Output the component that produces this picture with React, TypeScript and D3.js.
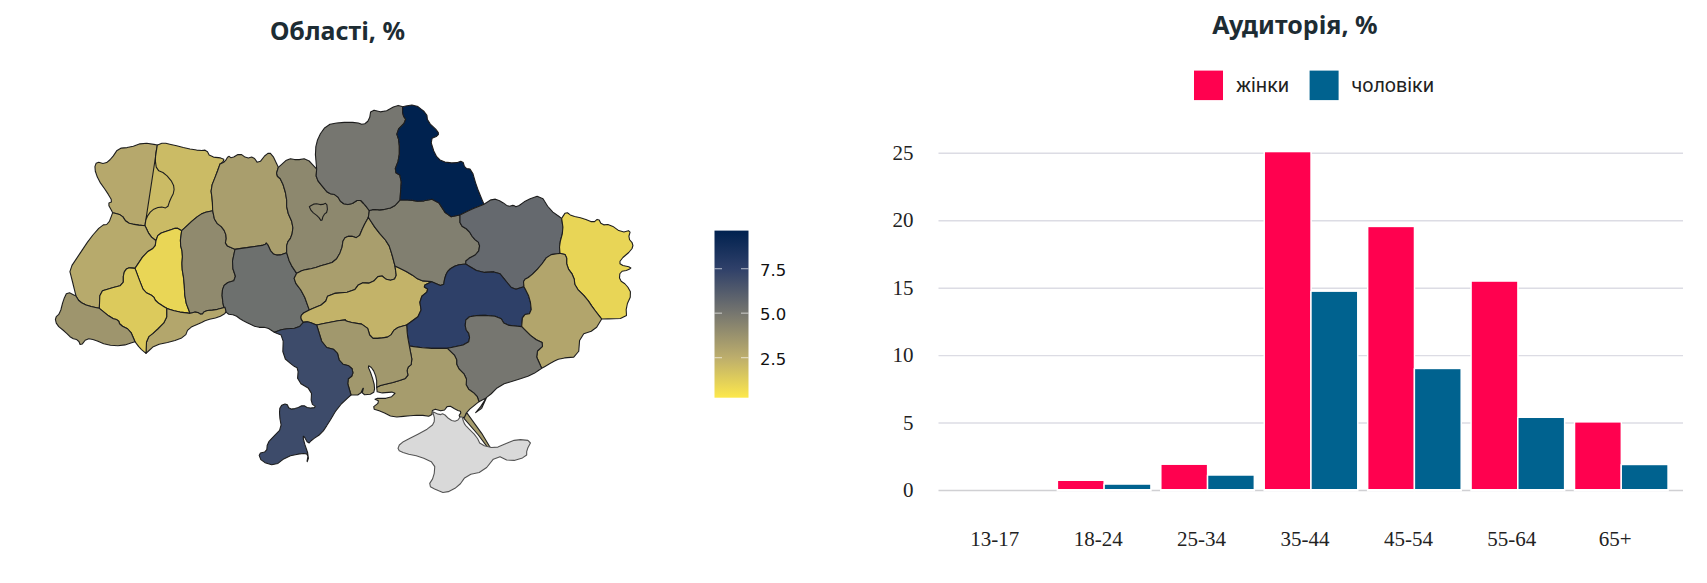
import { useRef, useEffect, FC } from 'react';
import * as d3 from 'd3';

type Pt = number[];

// Audience chart
const ageGroups = ['13-17', '18-24', '25-34', '35-44', '45-54', '55-64', '65+'];
const seriesNames = ['жінки', 'чоловіки'];
const seriesColors = ['#ff014f', '#00628f'];
const women = [0, 0.63, 1.82, 25, 19.45, 15.4, 4.96];
const men = [0, 0.35, 1.02, 14.65, 8.92, 5.3, 1.8];
const barTicks = [0, 5, 10, 15, 20, 25];

// Map colour scale
const colorStops = [0.25, 2.5, 5, 7.5, 9.64];
const colorValues = ['#fde84c', '#bdae6c', '#76766f', '#2f4069', '#00214f'];
const colorTicks = [2.5, 5, 7.5];

// Borders, quantised like TopoJSON arcs (see grid* below)
const gridLon = [21.67, 40.39]; // q = 0..1800
const gridLat = [52.67, 44.47]; // q = 0..1200

const volTop: Pt[] = [[352,165],[310,158],[270,172],[235,175],[215,205],[195,222],[170,215],[163,235],[175,270],[200,305],[218,335],[203,340],[218,368]];
const volLvi: Pt[] = [[218,368],[245,375],[260,398],[290,405],[315,407]];
const volRiv: Pt[] = [[315,407],[318,385],[335,360],[360,350],[382,355],[390,330],[403,305],[400,280],[375,250],[350,240],[345,205],[352,165]];
const rivTop: Pt[] = [[352,165],[370,158],[400,165],[440,175],[480,182],[500,180],[510,200],[552,205],[550,215],[540,222]];
const rivZhy: Pt[] = [[540,222],[530,250],[512,295],[517,330],[518,362]];
const rivKhm: Pt[] = [[518,362],[490,368],[465,385],[425,422]];
const rivTer: Pt[] = [[425,422],[410,413],[390,420],[355,432],[348,452]];
const rivLvi: Pt[] = [[348,452],[330,438],[315,407]];
const lviOut: Pt[] = [[218,368],[205,403],[185,405],[150,445],[120,490],[88,538],[95,565],[108,618]];
const lviZak: Pt[] = [[108,618],[118,635],[145,648],[178,655]];
const lviIf: Pt[] = [[178,655],[180,605],[210,595],[250,585],[250,550],[262,533],[285,535]];
const lviTer: Pt[] = [[285,535],[315,490],[345,472],[348,452]];
const terIf: Pt[] = [[285,535],[300,575],[312,605],[340,618],[348,635],[380,655]];
const terChv: Pt[] = [[380,655],[410,665],[450,670]];
const terKhm: Pt[] = [[450,670],[435,630],[432,570],[425,530],[428,490],[420,460],[425,422]];
const khmZhy: Pt[] = [[518,362],[525,395],[550,415],[560,440],[555,465],[585,478]];
const khmVin: Pt[] = [[585,478],[575,525],[590,570],[555,580],[545,605],[550,650],[555,652]];
const khmChv: Pt[] = [[555,652],[525,660],[495,662],[485,675],[470,665],[450,670]];
const chvIf: Pt[] = [[380,655],[380,690],[345,725],[320,745],[318,790]];
const chvOut: Pt[] = [[318,790],[345,765],[395,755],[435,740],[445,715],[480,700],[500,690],[535,682],[560,668],[555,652]];
const ifZak: Pt[] = [[178,655],[215,685],[235,690],[240,705],[270,720],[285,755]];
const ifOut: Pt[] = [[285,755],[300,775],[318,790]];
const zakOut: Pt[] = [[108,618],[82,605],[70,630],[60,670],[45,683],[50,705],[75,725],[95,745],[115,750],[122,768],[140,745],[165,750],[200,765],[245,768],[285,755]];
const zhyTop: Pt[] = [[540,222],[555,215],[565,197],[575,205],[600,190],[620,205],[640,200],[655,222],[680,190],[695,190],[715,232]];
const zhyKyi: Pt[] = [[715,232],[708,255],[725,270],[740,320],[740,360],[760,405],[755,440],[740,460],[740,488]];
const zhyVin: Pt[] = [[740,488],[715,497],[695,490],[680,457],[675,465],[640,470],[585,478]];
const vinKyi: Pt[] = [[740,488],[750,520],[770,550]];
const vinChk: Pt[] = [[770,550],[760,570],[790,610],[808,660]];
const vinKir: Pt[] = [[808,660],[785,672],[782,685],[790,697]];
const vinOde: Pt[] = [[790,697],[775,714],[730,717],[703,727]];
const vinOut: Pt[] = [[703,727],[680,712],[650,712],[625,700],[605,690],[585,675],[560,672],[555,652]];
const kyiTop: Pt[] = [[715,232],[745,205],[770,210],[800,205],[830,237]];
const kyiChn: Pt[] = [[830,237],[828,265],[852,295],[865,310],[890,315],[905,340],[930,345],[958,327],[975,345],[988,362]];
const kyiPol: Pt[] = [[988,362],[985,382]];
const kyiChk: Pt[] = [[985,382],[970,410],[955,445],[930,437],[910,445],[905,480],[885,515],[850,525],[820,535],[790,540],[770,550]];
const kyivCity: Pt[] = [[808,350],[825,340],[845,345],[860,338],[863,365],[850,375],[845,395],[835,380],[815,365],[808,350]];
const chkPol: Pt[] = [[985,382],[1010,420],[1045,460],[1055,490],[1065,528]];
const chkKir: Pt[] = [[1065,528],[1070,565],[1045,573],[1020,553],[995,580],[960,578],[940,605],[865,612],[855,640],[808,660]];
const kirPol: Pt[] = [[1065,528],[1110,550],[1140,572],[1175,575]];
const kirDni: Pt[] = [[1175,575],[1148,588],[1168,600],[1138,625],[1145,672],[1100,705]];
const kirMyk: Pt[] = [[1100,705],[1065,715],[1050,740],[1020,745],[992,745],[980,705],[920,695],[915,688],[830,705]];
const odeKir: Pt[] = [[790,697],[805,695],[830,705]];
const polDni: Pt[] = [[1175,575],[1210,590],[1215,560],[1225,540],[1250,525],[1277,522]];
const polKha: Pt[] = [[1260,375],[1260,405],[1285,420],[1300,445],[1320,460],[1315,490],[1278,510],[1277,522]];
const polSum: Pt[] = [[1080,330],[1110,330],[1140,335],[1188,325],[1225,382],[1260,375]];
const polChn: Pt[] = [[988,362],[1000,358],[1025,360],[1060,352],[1080,330]];
const chnOut: Pt[] = [[830,237],[825,180],[835,140],[860,105],[900,97],[950,97],[970,105],[988,90],[993,58],[1030,68],[1070,45],[1088,50]];
const chnSum: Pt[] = [[1088,50],[1088,75],[1100,92],[1068,125],[1078,155],[1078,205],[1062,245],[1085,258],[1080,330]];
const sumOut: Pt[] = [[1088,50],[1125,43],[1160,70],[1163,95],[1195,125],[1195,137],[1170,147],[1185,195],[1205,215],[1245,220],[1268,212],[1275,235],[1295,238],[1310,290],[1332,343]];
const sumKha: Pt[] = [[1332,343],[1290,360],[1260,375]];
const khaOut: Pt[] = [[1332,343],[1360,325],[1385,335],[1405,350],[1420,345],[1430,352],[1460,330],[1502,315],[1530,360],[1565,385]];
const khaLuh: Pt[] = [[1565,385],[1570,420],[1558,465],[1560,490]];
const khaDon: Pt[] = [[1560,490],[1525,495],[1500,530],[1470,560],[1450,570],[1452,590]];
const khaDni: Pt[] = [[1452,590],[1420,600],[1395,570],[1375,545],[1320,548],[1277,522]];
const dniDon: Pt[] = [[1452,590],[1470,625],[1475,670],[1448,675],[1445,710]];
const dniZap: Pt[] = [[1445,710],[1395,705],[1380,680],[1320,675],[1278,682],[1275,715],[1290,735],[1285,762],[1222,775]];
const dniKhe: Pt[] = [[1222,775],[1160,775],[1108,768]];
const dniMyk: Pt[] = [[1108,768],[1102,735],[1100,705]];
const lugOut: Pt[] = [[1565,385],[1578,365],[1595,378],[1630,385],[1660,398],[1675,385],[1685,405],[1710,403],[1745,428],[1772,420],[1765,445],[1780,462],[1775,480],[1740,510],[1740,525],[1775,532],[1765,540],[1740,545],[1738,570],[1760,585],[1775,612],[1758,650],[1760,685],[1685,687]];
const lugDon: Pt[] = [[1685,687],[1660,655],[1640,625],[1605,590],[1602,560],[1580,530],[1580,495],[1560,490]];
const donOut: Pt[] = [[1685,687],[1665,720],[1620,735],[1615,800],[1560,805],[1540,815],[1505,835]];
const donZap: Pt[] = [[1505,835],[1485,790],[1515,762],[1480,745],[1445,710]];
const zapKhe: Pt[] = [[1222,775],[1250,802],[1250,830],[1280,860],[1278,892],[1310,915],[1317,935]];
const zapOut: Pt[] = [[1317,935],[1345,920],[1380,885],[1430,870],[1475,855],[1505,835]];
const zapSpit: Pt[] = [[1340,922],[1325,955],[1307,968],[1322,950],[1336,922]];
const kheMyk: Pt[] = [[1108,768],[1118,820],[1100,835],[1105,862],[1070,875],[1025,885],[1010,892]];
const kheOut: Pt[] = [[1010,892],[1012,910],[1070,905],[1050,925],[1000,925],[1020,935],[995,955],[1025,965],[1060,982],[1100,978],[1140,975],[1175,980],[1178,955],[1210,965],[1225,945],[1250,960],[1265,965],[1255,980],[1272,985],[1280,965],[1317,935]];
const kheSpit: Pt[] = [[1280,968],[1325,1030],[1352,1075],[1345,1075],[1315,1035],[1272,985],[1280,968]];
const mykOde: Pt[] = [[830,705],[850,770],[890,780],[900,820],[935,830],[940,855],[920,870],[933,915]];
const mykOut: Pt[] = [[933,915],[960,915],[972,888],[965,915],[1000,912],[1005,892],[995,855],[982,825],[998,835],[1010,865],[1010,892]];
const odeOut: Pt[] = [[703,727],[730,738],[728,800],[760,828],[775,835],[772,875],[815,900],[813,940],[830,952],[805,955],[790,945],[770,955],[748,958],[740,940],[720,948],[718,975],[725,1015],[700,1040],[682,1060],[680,1085],[655,1090],[665,1115],[705,1127],[740,1100],[785,1090],[805,1092],[800,1120],[807,1100],[790,1050],[790,1035],[805,1062],[815,1050],[845,1030],[865,1000],[895,950],[933,915]];
const crimea: Pt[] = [[1178,965],[1200,975],[1210,970],[1230,990],[1250,995],[1265,975],[1272,1000],[1280,1010],[1310,1040],[1322,1065],[1365,1075],[1400,1060],[1430,1048],[1475,1052],[1460,1080],[1460,1100],[1410,1115],[1370,1095],[1330,1145],[1280,1155],[1255,1190],[1215,1210],[1190,1200],[1165,1187],[1182,1160],[1185,1120],[1140,1100],[1095,1090],[1072,1080],[1080,1060],[1120,1040],[1175,1010],[1185,990],[1178,965]];

const r = (a: Pt[]) => [...a].reverse();

// round the corners of an arc, end points stay put so neighbours still share it
const soften = (a: Pt[]) => {
    const out: Pt[] = [a[0]];
    for (let i = 0; i < a.length - 1; i++) {
        const [x0, y0] = a[i];
        const [x1, y1] = a[i + 1];
        out.push([x0 * 0.75 + x1 * 0.25, y0 * 0.75 + y1 * 0.25]);
        out.push([x0 * 0.25 + x1 * 0.75, y0 * 0.25 + y1 * 0.75]);
    }
    out.push(a[a.length - 1]);
    return out;
};
const ring = (...arcs: Pt[][]) => arcs.map(soften).flat();

const regionNames = ['Волинська', 'Рівненська', 'Львівська', 'Тернопільська', 'Хмельницька', 'Чернівецька', 'Івано-Франківська', 'Закарпатська', 'Житомирська', 'Вінницька', 'Київська', 'Черкаська', 'Кіровоградська', 'Полтавська', 'Чернігівська', 'Сумська', 'Харківська', 'Дніпропетровська', 'Луганська', 'Донецька', 'Запорізька', 'Херсонська', 'Миколаївська', 'Одеська', 'АР Крим'];
const regionValues = [2.75, 2.0, 2.7, 0.95, 4.1, 2.85, 1.4, 3.6, 3.2, 5.3, 4.2, 3.2, 2.3, 4.6, 5.0, 9.64, 5.6, 7.6, 1.0, 2.9, 5.0, 3.3, 3.5, 7.0, null];
const regionRings: Pt[][][] = [
    [ring(volTop, volLvi, volRiv)],
    [ring(rivTop, rivZhy, rivKhm, rivTer, rivLvi, r(volRiv))],
    [ring(lviOut, lviZak, lviIf, lviTer, rivLvi, r(volLvi))],
    [ring(terIf, terChv, terKhm, rivTer, r(lviTer))],
    [ring(khmZhy, khmVin, khmChv, terKhm, r(rivKhm))],
    [ring(chvIf, chvOut, khmChv, r(terChv))],
    [ring(ifZak, ifOut, r(chvIf), r(terIf), r(lviIf))],
    [ring(zakOut, r(ifZak), r(lviZak))],
    [ring(zhyTop, zhyKyi, zhyVin, r(khmZhy), r(rivZhy))],
    [ring(vinKyi, vinChk, vinKir, vinOde, vinOut, r(khmVin), r(zhyVin))],
    [ring(kyiTop, kyiChn, kyiPol, kyiChk, r(vinKyi), r(zhyKyi)), ring(kyivCity)],
    [ring(chkPol, chkKir, r(vinChk), r(kyiChk))],
    [ring(kirPol, kirDni, kirMyk, r(odeKir), r(vinKir), r(chkKir))],
    [ring(polChn, polSum, polKha, r(polDni), r(kirPol), r(chkPol), r(kyiPol))],
    [ring(chnOut, chnSum, r(polChn), r(kyiChn))],
    [ring(sumOut, sumKha, r(polSum), r(chnSum))],
    [ring(khaOut, khaLuh, khaDon, khaDni, r(polKha), r(sumKha))],
    [ring(polDni, r(khaDni), dniDon, dniZap, dniKhe, dniMyk, r(kirDni))],
    [ring(lugOut, lugDon, r(khaLuh))],
    [ring(donOut, donZap, r(dniDon), r(khaDon), r(lugDon))],
    [ring(zapKhe, zapOut, donZap, dniZap), zapSpit],
    [ring(kheMyk, kheOut, r(zapKhe), dniKhe), kheSpit],
    [ring(kirMyk, mykOde, mykOut, r(kheMyk), dniMyk)],
    [ring(odeOut, r(mykOde), r(odeKir), vinOde)],
    [ring(crimea)],
];

const App: FC = () => {
    const svgRef = useRef<SVGSVGElement | null>(null);
    const w = 1707;
    const h = 583;

    useEffect(() => {
        if (!svgRef.current) return;
        const svg = d3.select(svgRef.current);
        svg.selectAll('*').remove();
        const defs = svg.append('defs');

        // the source is a slightly soft screenshot
        defs.append('filter')
            .attr('id', 'soft')
            .append('feGaussianBlur')
            .attr('stdDeviation', 0.45);

        // Titles
        const titles = [['Області, %', 337.5, 40], ['Аудиторія, %', 1295, 34]] as const;
        svg.selectAll('.title')
            .data(titles)
            .join('text')
            .attr('class', 'title')
            .attr('x', d => d[1])
            .attr('y', d => d[2])
            .attr('text-anchor', 'middle')
            .attr('font-family', '"Noto Sans", sans-serif')
            .attr('font-weight', 700)
            .attr('font-size', 25)
            .attr('fill', '#1d2c33')
            .text(d => d[0]);

        // Map
        const color = d3.scaleLinear<string>().domain(colorStops).range(colorValues).clamp(true);
        const qLon = d3.scaleLinear().domain([0, 1800]).range(gridLon);
        const qLat = d3.scaleLinear().domain([0, 1200]).range(gridLat);
        const xLon = d3.scaleLinear().domain(gridLon).range([40, 640]);
        const yLat = d3.scaleLinear().domain(gridLat).range([90, 490]);
        const project = d3.geoTransform({
            point(x, y) {
                this.stream.point(xLon(x), yLat(y));
            },
        });
        const geo = d3.geoPath(project);
        const features = regionRings.map((rings, i) => ({
            type: 'Feature' as const,
            properties: { name: regionNames[i], value: regionValues[i] },
            geometry: {
                type: 'MultiPolygon' as const,
                coordinates: rings.map(rr => [rr.map(p => [qLon(p[0]), qLat(p[1])])]),
            },
        }));
        svg.append('g')
            .attr('filter', 'url(#soft)')
            .selectAll('path')
            .data(features)
            .join('path')
            .attr('d', d => geo(d as any))
            .attr('fill', d => d.properties.value === null ? '#d9d9d9' : color(d.properties.value))
            .attr('stroke', d => d.properties.value === null ? '#555' : '#1f1f1f')
            .attr('stroke-width', 1.1)
            .attr('stroke-linejoin', 'round');

        // Colour bar
        const barY = d3.scaleLinear().domain([0.25, 9.64]).range([397.7, 230.6]);
        const grad = defs.append('linearGradient')
            .attr('id', 'colorbar')
            .attr('x1', 0).attr('y1', 1).attr('x2', 0).attr('y2', 0);
        grad.selectAll('stop')
            .data(colorStops)
            .join('stop')
            .attr('offset', d => (d - 0.25) / (9.64 - 0.25))
            .attr('stop-color', d => color(d));
        svg.append('rect')
            .attr('x', 714.5)
            .attr('y', barY(9.64))
            .attr('width', 34)
            .attr('height', barY(0.25) - barY(9.64))
            .attr('fill', 'url(#colorbar)');
        const cb = svg.append('g').selectAll('g').data(colorTicks).join('g');
        cb.append('line')
            .attr('x1', 714.5).attr('x2', 722)
            .attr('y1', d => barY(d)).attr('y2', d => barY(d))
            .attr('stroke', '#fff').attr('stroke-opacity', 0.55).attr('stroke-width', 1.2);
        cb.append('line')
            .attr('x1', 741).attr('x2', 748.5)
            .attr('y1', d => barY(d)).attr('y2', d => barY(d))
            .attr('stroke', '#fff').attr('stroke-opacity', 0.55).attr('stroke-width', 1.2);
        cb.append('text')
            .attr('x', 760)
            .attr('y', d => barY(d) + 7)
            .attr('font-family', '"DejaVu Sans", sans-serif')
            .attr('font-size', 16.5)
            .attr('fill', '#111')
            .text(d => d3.format('.1f')(d));

        // Bars
        const y = d3.scaleLinear().domain([0, 25]).range([490, 152.8]);
        const x0 = d3.scaleBand().domain(ageGroups).range([949, 1673]).paddingInner(0.11).paddingOuter(0.055);
        const x1 = d3.scaleBand().domain(seriesNames).range([0, x0.bandwidth()]).paddingInner(0.03);
        const xLabels = d3.scaleBand().domain(ageGroups).range([943, 1667]);

        const yAxis = d3.axisLeft(y).tickValues(barTicks).tickSize(-(1683 - 938.5)).tickPadding(25);
        const yG = svg.append('g').attr('transform', 'translate(938.5,0)').call(yAxis);
        yG.select('.domain').remove();
        yG.selectAll('line')
            .attr('stroke', d => (d === 0 ? '#d0d0d3' : '#dcdce4'))
            .attr('stroke-width', 1.4);
        yG.selectAll('text')
            .attr('font-family', '"Liberation Serif", serif')
            .attr('font-size', 21)
            .attr('fill', '#222');

        const xAxis = d3.axisBottom(xLabels).tickSize(0).tickPadding(0);
        const xG = svg.append('g').attr('transform', 'translate(0,531.5)').call(xAxis);
        xG.select('.domain').remove();
        xG.selectAll('text')
            .attr('font-family', '"Liberation Serif", serif')
            .attr('font-size', 21)
            .attr('fill', '#222');

        [women, men].forEach((values, s) => {
            const rows = values.map((v, i) => ({ v, cat: ageGroups[i] })).filter(d => d.v > 0);
            const barX = (cat: string) => (x0(cat) as number) + (x1(seriesNames[s]) as number);
            // white halo cuts the grid lines round each bar
            svg.append('g')
                .selectAll('rect')
                .data(rows)
                .join('rect')
                .attr('x', d => barX(d.cat) - 1.5)
                .attr('y', d => y(d.v) - 1.5)
                .attr('width', x1.bandwidth() + 3)
                .attr('height', d => y(0) - y(d.v) + 3)
                .attr('fill', '#fff');
            svg.append('g')
                .selectAll('rect')
                .data(rows)
                .join('rect')
                .attr('x', d => barX(d.cat))
                .attr('y', d => y(d.v) - 0.5)
                .attr('width', x1.bandwidth())
                .attr('height', d => y(0) - y(d.v) - 0.5)
                .attr('fill', seriesColors[s]);
        });

        // Legend
        const legendX = [1194, 1309.6];
        const leg = svg.append('g').selectAll('g').data(seriesNames).join('g');
        leg.append('rect')
            .attr('x', (_d, i) => legendX[i])
            .attr('y', 70.6)
            .attr('width', 29)
            .attr('height', 29.5)
            .attr('fill', (_d, i) => seriesColors[i]);
        leg.append('text')
            .attr('x', (_d, i) => legendX[i] + 42)
            .attr('y', 92)
            .attr('font-family', 'Roboto, sans-serif')
            .attr('font-size', 19.7)
            .attr('fill', '#222')
            .text(d => d);
    }, []);

    return (
        <svg
            ref={svgRef}
            width={w}
            height={h}
            viewBox={`0 0 ${w} ${h}`}
            style={{ position: 'absolute', left: 0, top: 0, background: '#fff' }}
        />
    );
};

export default App;
